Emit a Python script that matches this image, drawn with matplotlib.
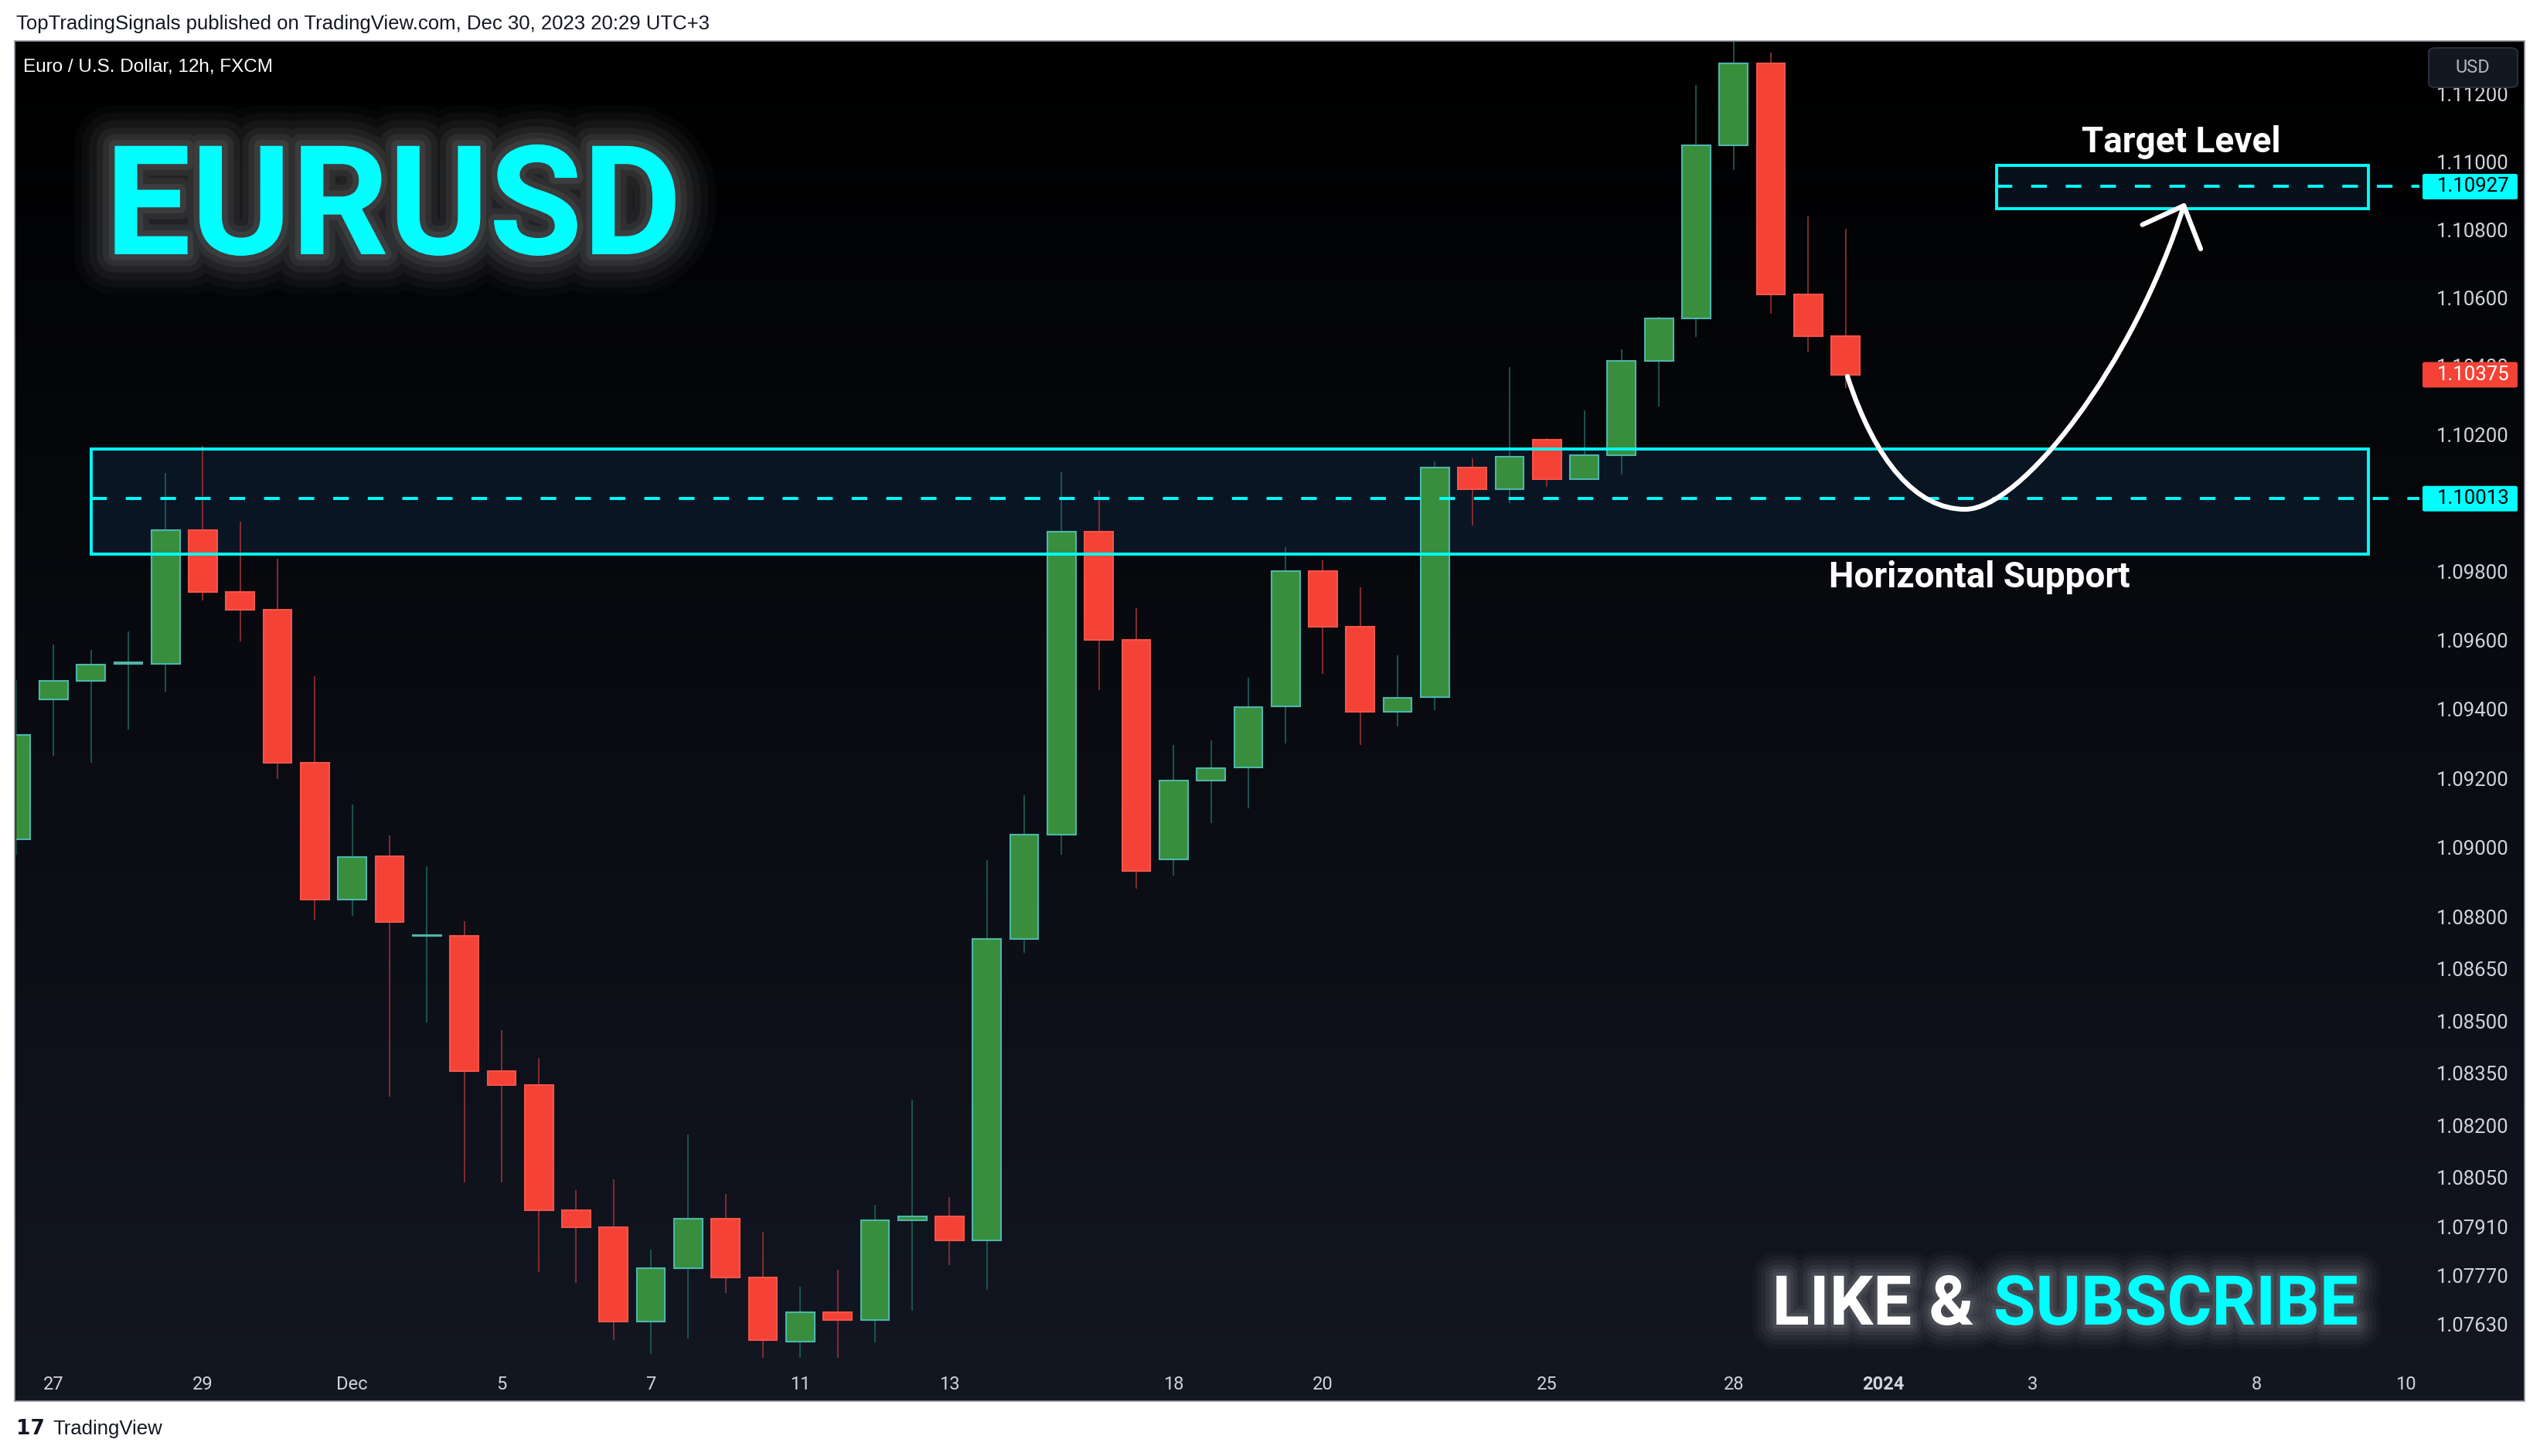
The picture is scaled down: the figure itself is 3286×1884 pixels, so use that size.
import numpy as np
import matplotlib
matplotlib.use("Agg")
import matplotlib.pyplot as plt
import matplotlib.patheffects as pe
from matplotlib.patches import Rectangle, FancyBboxPatch, PathPatch
from matplotlib.path import Path
from matplotlib.ticker import FixedLocator, NullLocator, NullFormatter, FuncFormatter

plt.rcParams['font.family'] = ['Roboto', 'DejaVu Sans']

W, H = 3286, 1884

# EURUSD 12h candles (bar index 0 = Nov 27)
bar_index = list(range(-1, 49))
opens = [1.09024, 1.09428, 1.09482, 1.09533, 1.09533, 1.09922, 1.09740, 1.09689, 1.09245, 1.08849,
         1.08975, 1.08745, 1.08745, 1.08355, 1.08315, 1.07956, 1.07907, 1.07638, 1.07792, 1.07932,
         1.07764, 1.07581, 1.07665, 1.07643, 1.07927, 1.07938, 1.07870, 1.08735, 1.09037, 1.09916,
         1.09601, 1.08965, 1.09193, 1.09232, 1.09409, 1.09802, 1.09641, 1.09392, 1.09435, 1.10104,
         1.10041, 1.10186, 1.10070, 1.10139, 1.10416, 1.10541, 1.11048, 1.11290, 1.10610, 1.10487]
highs = [1.09485, 1.09588, 1.09573, 1.09627, 1.10087, 1.10168, 1.09946, 1.09838, 1.09496, 1.09125,
         1.09035, 1.08946, 1.08787, 1.08474, 1.08394, 1.08014, 1.08046, 1.07843, 1.08173, 1.08003,
         1.07895, 1.07738, 1.07787, 1.07972, 1.08274, 1.07994, 1.08964, 1.09151, 1.10090, 1.10037,
         1.09694, 1.09297, 1.09311, 1.09492, 1.09872, 1.09834, 1.09754, 1.09557, 1.10122, 1.10131,
         1.10398, 1.10190, 1.10271, 1.10449, 1.10545, 1.11226, 1.11360, 1.11322, 1.10839, 1.10803]
lows = [1.08980, 1.09265, 1.09245, 1.09342, 1.09451, 1.09716, 1.09597, 1.09199, 1.08791, 1.08804,
        1.08283, 1.08495, 1.08037, 1.08037, 1.07779, 1.07748, 1.07585, 1.07547, 1.07591, 1.07721,
        1.07534, 1.07534, 1.07534, 1.07580, 1.07669, 1.07799, 1.07729, 1.08697, 1.08979, 1.09455,
        1.08881, 1.08919, 1.09070, 1.09114, 1.09302, 1.09504, 1.09297, 1.09351, 1.09398, 1.09934,
        1.09999, 1.10048, 1.10068, 1.10083, 1.10282, 1.10485, 1.10975, 1.10553, 1.10442, 1.10337]
closes = [1.09325, 1.09482, 1.09531, 1.09535, 1.09922, 1.09740, 1.09689, 1.09245, 1.08849, 1.08973,
          1.08786, 1.08747, 1.08355, 1.08315, 1.07956, 1.07907, 1.07638, 1.07792, 1.07932, 1.07764,
          1.07585, 1.07665, 1.07643, 1.07927, 1.07938, 1.07870, 1.08735, 1.09037, 1.09916, 1.09601,
          1.08933, 1.09193, 1.09230, 1.09407, 1.09802, 1.09641, 1.09392, 1.09434, 1.10104, 1.10040,
          1.10136, 1.10070, 1.10139, 1.10416, 1.10541, 1.11048, 1.11290, 1.10610, 1.10487, 1.10375]

price_ticks = [1.11200, 1.11000, 1.10800, 1.10600, 1.10400, 1.10200, 1.09800, 1.09600, 1.09400,
               1.09200, 1.09000, 1.08800, 1.08650, 1.08500, 1.08350, 1.08200, 1.08050, 1.07910,
               1.07770, 1.07630]
date_pos = [0, 4, 8, 12, 16, 20, 24, 30, 34, 40, 45, 49, 53, 59, 63]
date_labels = ["27", "29", "Dec", "5", "7", "11", "13", "18", "20", "25", "28", "2024", "3", "8", "10"]

# drawings
support_top, support_bottom, support_level = 1.10157, 1.09851, 1.10013
target_top, target_bottom, target_level = 1.10990, 1.10863, 1.10927
last_price = 1.10375
support_x = (1.0, 62.0)
target_x = (52.05, 62.0)
path_pts = [(48.05, 1.10370), (48.8, 1.1012), (49.9, 1.09982), (51.2, 1.09982),
            (52.7, 1.09982), (55.7, 1.1040), (57.06, 1.10871)]
head_pts = [(55.95, 1.10815), (57.06, 1.10871), (57.51, 1.10744)]

CYAN = '#00ffff'


def box(x0, y0, x1, y1):
    return [x0 / W, 1 - y1 / H, (x1 - x0) / W, (y1 - y0) / H]


def glow(s):
    eff = [pe.Stroke(linewidth=lw * s, foreground='white', alpha=a)
           for lw, a in [(76, 0.025), (62, 0.03), (48, 0.04), (34, 0.05), (22, 0.06), (11, 0.07)]]
    return eff + [pe.Normal()]


fig = plt.figure(figsize=(W / 100, H / 100), dpi=100, facecolor='white')

# panel background (vertical gradient)
bg = fig.add_axes(box(19, 53, 3266, 1813))
t = np.linspace(0, 1, 256)[:, None, None]
top_c = np.array([0, 0, 0]) / 255
bot_c = np.array([19, 23, 34]) / 255
img = top_c + (bot_c - top_c) * t
bg.imshow(img, aspect='auto', extent=[0, 1, 0, 1], origin='upper')
bg.set_xticks([])
bg.set_yticks([])
for s in bg.spines.values():
    s.set_color('#9598a1')
    s.set_linewidth(1.2)

ax = fig.add_axes(box(21, 54, 3130, 1762))
ax.patch.set_alpha(0)
for s in ax.spines.values():
    s.set_visible(False)
ax.set_yscale('log')

# drawing fills under the candles
ax.add_patch(Rectangle((support_x[0], support_bottom), support_x[1] - support_x[0],
                       support_top - support_bottom, facecolor='#1f4e85', alpha=0.2,
                       edgecolor='none', zorder=1))
ax.add_patch(Rectangle((target_x[0], target_bottom), target_x[1] - target_x[0],
                       target_top - target_bottom, facecolor='#1f4e85', alpha=0.2,
                       edgecolor='none', zorder=1))

# candles
for i, o, h, l, c in zip(bar_index, opens, highs, lows, closes):
    up = c >= o
    ax.vlines(i, l, h, color='#1b5b55' if up else '#8c2f33', lw=1.3, zorder=3)
    ax.bar(i, max(abs(c - o), 0.00003), bottom=min(o, c), width=0.76,
           color='#388e3c' if up else '#f44336',
           edgecolor='#4db6ac' if up else '#f4544a', linewidth=1.5, zorder=4)

xmin, xmax = -1.0, 63.37
ax.set_xlim(xmin, xmax)
ax.set_ylim(1.07524, 1.11354)

# drawing borders and levels
for (x0, x1), b, tp in [(support_x, support_bottom, support_top), (target_x, target_bottom, target_top)]:
    ax.add_patch(Rectangle((x0, b), x1 - x0, tp - b, facecolor='none',
                           edgecolor=CYAN, lw=2.8, zorder=6))
ax.hlines(support_level, support_x[0], xmax, color=CYAN, lw=2.8, linestyles=(0, (5.2, 6.3)), zorder=6)
ax.hlines(target_level, target_x[0], xmax, color=CYAN, lw=2.8, linestyles=(0, (5.2, 6.3)), zorder=6)

# projected move
codes = [Path.MOVETO] + [Path.CURVE4] * 6
ax.add_patch(PathPatch(Path(path_pts, codes), fill=False, edgecolor='white', lw=4.5,
                       capstyle='round', zorder=7))
ax.plot([p[0] for p in head_pts], [p[1] for p in head_pts], color='white', lw=4.5,
        solid_capstyle='round', solid_joinstyle='round', zorder=7)

ax.text(51.59, 1.09755, 'Horizontal Support', ha='center', va='baseline', fontsize=33,
        fontweight='bold', color='white', zorder=8)
ax.text(56.99, 1.11028, 'Target Level', ha='center', va='baseline', fontsize=33,
        fontweight='bold', color='white', zorder=8)

# axes ticks
ax.yaxis.tick_right()
ax.yaxis.set_major_locator(FixedLocator(price_ticks))
ax.yaxis.set_major_formatter(FuncFormatter(lambda v, p: f"{v:.5f}"))
ax.yaxis.set_minor_locator(NullLocator())
ax.yaxis.set_minor_formatter(NullFormatter())
ax.tick_params(axis='y', length=0, pad=16, labelsize=18.5, labelcolor='#d1d4dc')
ax.set_xticks(date_pos, date_labels)
ax.tick_params(axis='x', length=0, pad=13, labelsize=17, labelcolor='#d1d4dc')
ax.get_xticklabels()[date_labels.index("2024")].set_fontweight('bold')

# price labels on the scale
fig.canvas.draw()
for val, fc, tc in [(target_level, CYAN, '#000000'), (last_price, '#f44336', '#ffffff'),
                    (support_level, CYAN, '#000000')]:
    ypix = ax.transData.transform((0, val))[1]
    yf = ypix / H
    fig.add_artist(FancyBboxPatch((3134 / W, yf - 16.5 / H), 123 / W, 33 / H,
                                  boxstyle='round,pad=0,rounding_size=0.001',
                                  fc=fc, ec='none', zorder=5))
    fig.text(3153 / W, yf, f"{val:.5f}", color=tc, fontsize=18.5, va='center', ha='left', zorder=6)

# currency button
fig.add_artist(FancyBboxPatch((3142 / W, 1 - 113 / H), 115 / W, 51 / H,
                              boxstyle='round,pad=0,rounding_size=0.003',
                              fc='#131722', ec='#2a2e39', lw=1.5, zorder=5))
fig.text(3199 / W, 1 - 88 / H, 'USD', color='#b2b5be', fontsize=17, ha='center', va='center', zorder=6)

# header / legend / footer
fig.text(21 / W, 1 - 31 / H, 'TopTradingSignals published on TradingView.com, Dec 30, 2023 20:29 UTC+3',
         fontsize=18.5, color='#131722', family=['Liberation Sans', 'DejaVu Sans'], va='center')
fig.text(30 / W, 1 - 87 / H, 'Euro / U.S. Dollar, 12h, FXCM', fontsize=17.5, color='white',
         family=['Liberation Sans', 'DejaVu Sans'], va='center')
fig.text(21 / W, 1 - 1849 / H, '17', fontsize=19, fontweight='bold', color='#131722',
         family=['DejaVu Sans'], va='center')
fig.text(68 / W, 1 - 1849 / H, 'TradingView', fontsize=18.5, color='#131722',
         family=['Liberation Sans', 'DejaVu Sans'], va='center')

# overlay titles
fig.text(136 / W, 1 - 329 / H, 'EURUSD', fontsize=142, fontweight='bold', color=CYAN,
         va='baseline', ha='left', path_effects=glow(1.0), zorder=8)
sub = fig.text(3051 / W, 1 - 1714 / H, 'SUBSCRIBE', fontsize=64, fontweight='bold', color=CYAN,
               va='baseline', ha='right', path_effects=glow(0.6), zorder=8)
fig.add_artist(plt.Annotation('LIKE &', xy=(0, 0), xycoords=sub, xytext=(-18, 0),
                              textcoords='offset points', ha='right', va='bottom', fontsize=64,
                              fontweight='bold', color='white', path_effects=glow(0.6), zorder=8))

fig.savefig('out.png', dpi=100, facecolor='white')
